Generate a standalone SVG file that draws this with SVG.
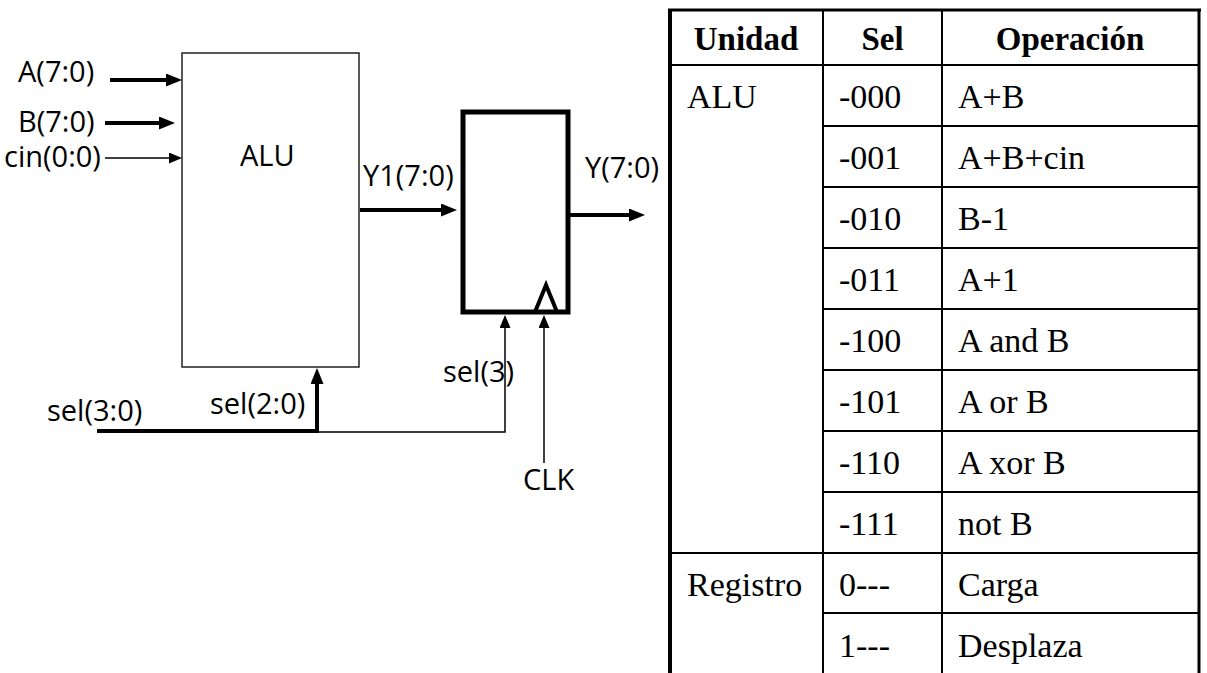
<svg xmlns="http://www.w3.org/2000/svg" width="1207" height="673" viewBox="0 0 1207 673">
<style>
.lbl{font-family:"Open Sans","Liberation Sans",sans-serif;font-size:29px;fill:#000}
.cell{font-family:"Liberation Serif","Times New Roman",serif;font-size:34px;fill:#000}
.hdr{font-family:"Liberation Serif","Times New Roman",serif;font-size:33px;font-weight:bold;fill:#000}
.thick{stroke:#000;stroke-width:4;fill:none}
.thin{stroke:#000;stroke-width:1.5;fill:none}
.grid{stroke:#000;stroke-width:2;fill:none}
</style>
<defs>
<marker id="ah" markerUnits="userSpaceOnUse" markerWidth="16" markerHeight="13" refX="6" refY="6.5" orient="auto">
<path d="M0,0 L16,6.5 L0,13 z" fill="#000"/>
</marker>
<marker id="ahs" markerUnits="userSpaceOnUse" markerWidth="13" markerHeight="11" refX="5" refY="5.5" orient="auto">
<path d="M0,0 L13,5.5 L0,11 z" fill="#000"/>
</marker>
</defs>
<rect width="1207" height="673" fill="#fff"/>

<g id="alu">
<rect x="182" y="53" width="177" height="314" fill="#fff" stroke="#222" stroke-width="1.5"/>
<text class="lbl" x="240" y="166">ALU</text>
</g>

<g id="registro">
<rect x="463" y="112" width="105" height="200" fill="#fff" stroke="#000" stroke-width="5"/>
<polyline points="535,312 546,285 557,312" class="thick"/>
</g>

<g id="labels">
<text class="lbl" x="18" y="82">A(7:0)</text>
<text class="lbl" x="18" y="132">B(7:0)</text>
<text class="lbl" x="4" y="167">cin(0:0)</text>
<text class="lbl" x="363" y="186">Y1(7:0)</text>
<text class="lbl" x="585" y="178">Y(7:0)</text>
<text class="lbl" x="47" y="421">sel(3:0)</text>
<text class="lbl" x="210" y="414">sel(2:0)</text>
<text class="lbl" x="443" y="382">sel(3)</text>
<text class="lbl" x="523" y="490">CLK</text>
</g>

<g id="connectors">
<line x1="110" y1="80" x2="172" y2="80" class="thick" marker-end="url(#ah)"/>
<line x1="105" y1="123" x2="165" y2="123" class="thick" marker-end="url(#ah)"/>
<line x1="105" y1="158" x2="174" y2="158" class="thin" marker-end="url(#ahs)"/>
<line x1="360" y1="210" x2="447" y2="210" class="thick" marker-end="url(#ah)"/>
<line x1="568" y1="215" x2="635" y2="215" class="thick" marker-end="url(#ah)"/>
<polyline points="97,431 317,431 317,378" class="thick" marker-end="url(#ah)"/>
<polyline points="317,432 505,432 505,323" class="thin" marker-end="url(#ahs)"/>
<line x1="544" y1="463" x2="544" y2="323" class="thin" marker-end="url(#ahs)"/>
</g>

<g id="tabla">
<line x1="670" y1="10" x2="670" y2="673" stroke="#000" stroke-width="4"/>
<line x1="1199" y1="10" x2="1199" y2="673" stroke="#000" stroke-width="3"/>
<line x1="668" y1="10" x2="1201" y2="10" stroke="#000" stroke-width="3"/>
<line x1="823" y1="10" x2="823" y2="673" class="grid"/>
<line x1="942" y1="10" x2="942" y2="673" class="grid"/>
<line x1="670" y1="65" x2="1199" y2="65" class="grid"/>
<line x1="670" y1="553" x2="1199" y2="553" class="grid"/>
<g class="rows">
<line x1="823" y1="126" x2="1199" y2="126" class="grid"/>
<line x1="823" y1="187" x2="1199" y2="187" class="grid"/>
<line x1="823" y1="248" x2="1199" y2="248" class="grid"/>
<line x1="823" y1="309" x2="1199" y2="309" class="grid"/>
<line x1="823" y1="370" x2="1199" y2="370" class="grid"/>
<line x1="823" y1="431" x2="1199" y2="431" class="grid"/>
<line x1="823" y1="492" x2="1199" y2="492" class="grid"/>
<line x1="823" y1="613" x2="1199" y2="613" class="grid"/>
</g>
<text class="hdr" x="746" y="50" text-anchor="middle">Unidad</text>
<text class="hdr" x="882.5" y="50" text-anchor="middle">Sel</text>
<text class="hdr" x="1070" y="50" text-anchor="middle">Operación</text>
<text class="cell" x="687" y="108">ALU</text>
<text class="cell" x="687" y="596">Registro</text>
<text class="cell" x="839" y="108">-000</text>
<text class="cell" x="839" y="169">-001</text>
<text class="cell" x="839" y="230">-010</text>
<text class="cell" x="839" y="291">-011</text>
<text class="cell" x="839" y="352">-100</text>
<text class="cell" x="839" y="413">-101</text>
<text class="cell" x="839" y="474">-110</text>
<text class="cell" x="839" y="535">-111</text>
<text class="cell" x="839" y="596">0---</text>
<text class="cell" x="839" y="657">1---</text>
<text class="cell" x="958" y="108">A+B</text>
<text class="cell" x="958" y="169">A+B+cin</text>
<text class="cell" x="958" y="230">B-1</text>
<text class="cell" x="958" y="291">A+1</text>
<text class="cell" x="958" y="352">A and B</text>
<text class="cell" x="958" y="413">A or B</text>
<text class="cell" x="958" y="474">A xor B</text>
<text class="cell" x="958" y="535">not B</text>
<text class="cell" x="958" y="596">Carga</text>
<text class="cell" x="958" y="657">Desplaza</text>
</g>
</svg>
